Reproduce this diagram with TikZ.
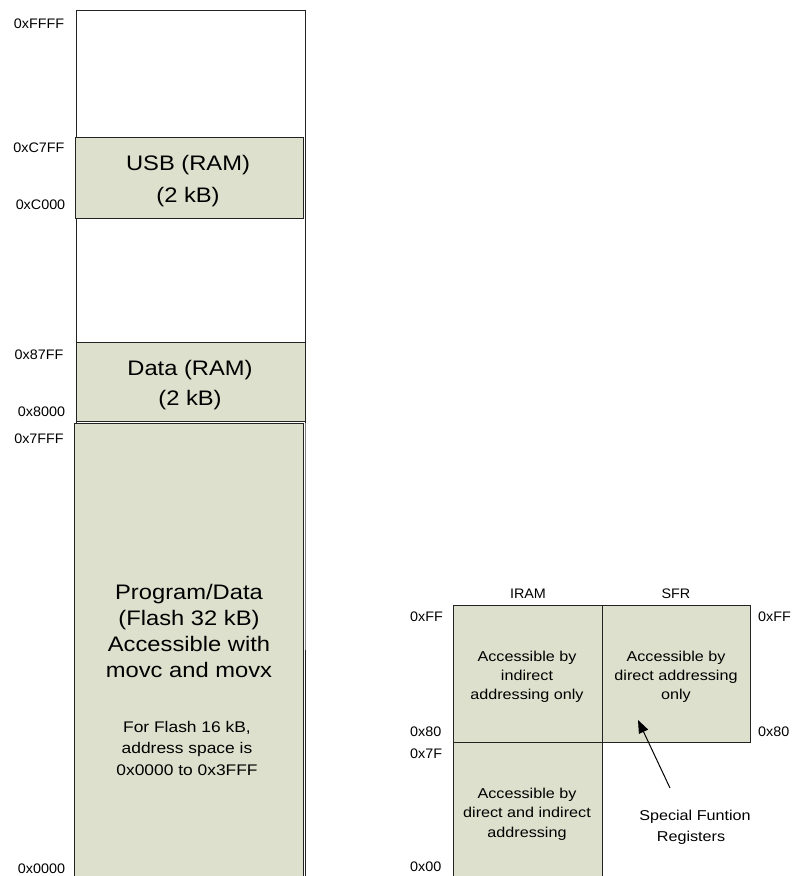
\documentclass[tikz,border=0pt]{standalone}
\usepackage{fontspec}
\setmainfont{Liberation Sans}
\newfontfamily\widefont{Liberation Sans}[FakeStretch=1.13]
\newfontfamily\labfont{Liberation Sans}[FakeStretch=1.04]
\usetikzlibrary{arrows.meta}
\definecolor{memfill}{RGB}{221,224,204}
\definecolor{edgecol}{RGB}{35,35,35}
\begin{document}
\begin{tikzpicture}[x=1pt,y=-1pt,
  box/.style={draw=edgecol, line width=0.9pt, fill=memfill, inner sep=0pt, outer sep=0pt, anchor=north west},
  big/.style={font=\widefont\fontsize{21}{26}\selectfont, anchor=base, inner sep=0pt},
  mid/.style={font=\widefont\fontsize{15.4}{20}\selectfont, anchor=base, inner sep=0pt},
  small/.style={font=\widefont\fontsize{14.3}{19}\selectfont, anchor=base, inner sep=0pt},
  addr/.style={font=\labfont\fontsize{13.8}{16}\selectfont, anchor=base, inner sep=0pt}]
\clip (0,0) rectangle (793,876);
\fill[white] (0,0) rectangle (793,876);
% ---------- left memory map ----------
\node[box, fill=white, minimum width=229pt, minimum height=875pt] (outer) at (76,10) {};
\node[box, minimum width=228pt, minimum height=81pt] (usb) at (75,137) {};
\node[box, minimum width=229pt, minimum height=79pt] (data) at (76,342) {};
\node[box, minimum width=229pt, minimum height=462pt] (prog) at (74,423) {};
\draw[gray, line width=1.2pt] (305.5,423) -- (305.5,650);

\node[big] (usb1) at (188,170) {USB (RAM)};
\node[big] (usb2) at (188,202.5) {(2 kB)};
\node[big] (dat1) at (190,375) {Data (RAM)};
\node[big] (dat2) at (190,405.5) {(2 kB)};
\node[big] (pg1) at (189,599) {Program/Data};
\node[big] (pg2) at (189,625) {(Flash 32 kB)};
\node[big] (pg3) at (189,651) {Accessible with};
\node[big] (pg4) at (189,677) {movc and movx};
\node[mid] (pg5) at (187,732) {For Flash 16 kB,};
\node[mid] (pg6) at (187,753.5) {address space is};
\node[mid] (pg7) at (187,775) {0x0000 to 0x3FFF};

\node[addr] (aFFFF) at (39,28) {0xFFFF};
\node[addr] (aC7FF) at (39,152) {0xC7FF};
\node[addr] (aC000) at (40.5,209) {0xC000};
\node[addr] (a87FF) at (39,359) {0x87FF};
\node[addr] (a8000) at (41.5,416) {0x8000};
\node[addr] (a7FFF) at (39,443) {0x7FFF};
\node[addr] (a0000) at (41.5,873) {0x0000};

% ---------- right memory map ----------
\node[box, minimum width=149pt, minimum height=137pt] (iramhi) at (453,605) {};
\node[box, minimum width=148pt, minimum height=137pt] (sfr) at (602,605) {};
\node[box, minimum width=149pt, minimum height=145pt] (iramlo) at (453,742) {};

\node[addr] (tIRAM) at (528,598) {IRAM};
\node[addr] (tSFR) at (676,598) {SFR};

\node[small] (h1) at (527,661) {Accessible by};
\node[small] (h2) at (527,680) {indirect};
\node[small] (h3) at (527,699) {addressing only};
\node[small] (s1) at (676,661) {Accessible by};
\node[small] (s2) at (676,680) {direct addressing};
\node[small] (s3) at (676,699) {only};
\node[small] (l1) at (527,798) {Accessible by};
\node[small] (l2) at (527,817.5) {direct and indirect};
\node[small] (l3) at (527,837) {addressing};

\node[small] (sp1) at (695,820.5) {Special Funtion};
\node[small] (sp2) at (691,841) {Registers};

\node[addr, anchor=base west] (lFF) at (410,621.5) {0xFF};
\node[addr, anchor=base west] (l80) at (410,736.5) {0x80};
\node[addr, anchor=base west] (l7F) at (410,758) {0x7F};
\node[addr, anchor=base west] (l00) at (410,871) {0x00};
\node[addr, anchor=base west] (rFF) at (758,621.5) {0xFF};
\node[addr, anchor=base west] (r80) at (758,736.5) {0x80};

\coordinate (arrtail) at (670,788);
\coordinate (arrtip) at (638,720);
\draw[line width=1pt, -{Triangle[length=13pt,width=10pt]}] (arrtail) -- (arrtip);
\end{tikzpicture}
\end{document}
